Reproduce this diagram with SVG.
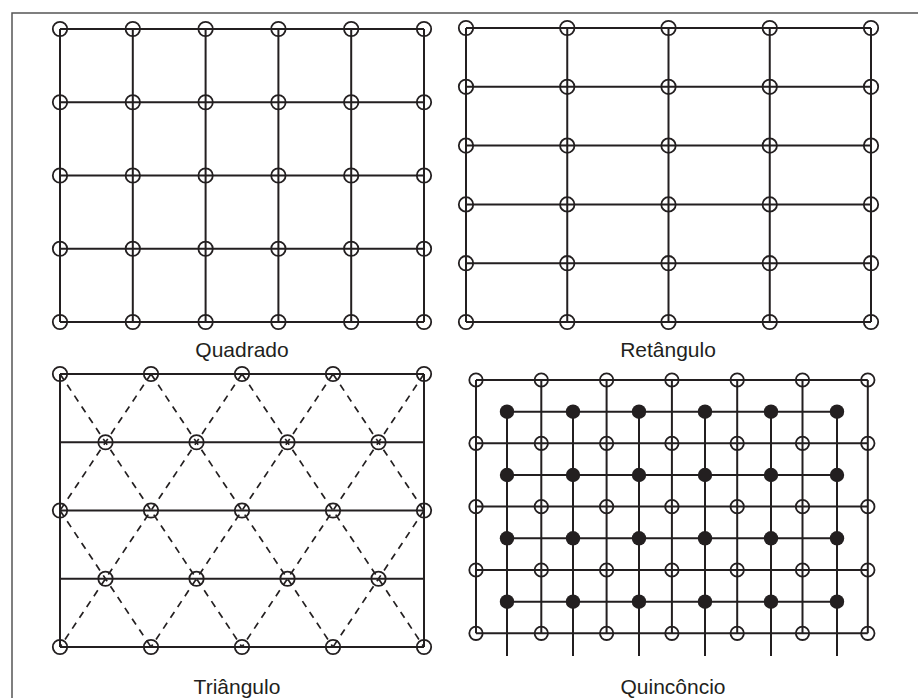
<svg xmlns="http://www.w3.org/2000/svg" xmlns:xlink="http://www.w3.org/1999/xlink" width="919" height="698" viewBox="0 0 919 698">
<style>
.frame{fill:none;stroke:#555;stroke-width:1.5}
.ln{fill:none;stroke:#231f20;stroke-width:2}
.dash{fill:none;stroke:#231f20;stroke-width:1.7;stroke-dasharray:7 6}
.oc{fill:none;stroke:#231f20;stroke-width:1.8}
.fc{fill:#231f20;stroke:none}
.lbl{font-family:"Liberation Sans",Arial,sans-serif;font-size:21px;fill:#231f20;text-anchor:middle}
</style>
<defs>
<circle id="o" r="7.2" class="oc"/>
<circle id="os" r="6.7" class="oc"/>
<circle id="f" r="7.2" class="fc"/>
</defs>
<rect width="919" height="698" fill="#fff"/>
<path class="frame" d="M12 698V13H918"/>

<g id="quadrado">
<g id="quadrado-connectors">
<path class="ln" d="M60 29V322M132.8 29V322M205.6 29V322M278.4 29V322M351.2 29V322M424 29V322M60 29H424M60 102.25H424M60 175.5H424M60 248.75H424M60 322H424"/>
</g>
<g id="quadrado-nodes">
<use href="#o" x="60" y="29"/><use href="#o" x="132.8" y="29"/><use href="#o" x="205.6" y="29"/><use href="#o" x="278.4" y="29"/><use href="#o" x="351.2" y="29"/><use href="#o" x="424" y="29"/>
<use href="#o" x="60" y="102.25"/><use href="#o" x="132.8" y="102.25"/><use href="#o" x="205.6" y="102.25"/><use href="#o" x="278.4" y="102.25"/><use href="#o" x="351.2" y="102.25"/><use href="#o" x="424" y="102.25"/>
<use href="#o" x="60" y="175.5"/><use href="#o" x="132.8" y="175.5"/><use href="#o" x="205.6" y="175.5"/><use href="#o" x="278.4" y="175.5"/><use href="#o" x="351.2" y="175.5"/><use href="#o" x="424" y="175.5"/>
<use href="#o" x="60" y="248.75"/><use href="#o" x="132.8" y="248.75"/><use href="#o" x="205.6" y="248.75"/><use href="#o" x="278.4" y="248.75"/><use href="#o" x="351.2" y="248.75"/><use href="#o" x="424" y="248.75"/>
<use href="#o" x="60" y="322"/><use href="#o" x="132.8" y="322"/><use href="#o" x="205.6" y="322"/><use href="#o" x="278.4" y="322"/><use href="#o" x="351.2" y="322"/><use href="#o" x="424" y="322"/>
</g>
<text class="lbl" x="242" y="357">Quadrado</text>
</g>

<g id="retangulo">
<g id="retangulo-connectors">
<path class="ln" d="M466 28V322M567.25 28V322M668.5 28V322M769.75 28V322M871 28V322M466 28H871M466 86.8H871M466 145.6H871M466 204.4H871M466 263.2H871M466 322H871"/>
</g>
<g id="retangulo-nodes">
<use href="#o" x="466" y="28"/><use href="#o" x="567.25" y="28"/><use href="#o" x="668.5" y="28"/><use href="#o" x="769.75" y="28"/><use href="#o" x="871" y="28"/>
<use href="#o" x="466" y="86.8"/><use href="#o" x="567.25" y="86.8"/><use href="#o" x="668.5" y="86.8"/><use href="#o" x="769.75" y="86.8"/><use href="#o" x="871" y="86.8"/>
<use href="#o" x="466" y="145.6"/><use href="#o" x="567.25" y="145.6"/><use href="#o" x="668.5" y="145.6"/><use href="#o" x="769.75" y="145.6"/><use href="#o" x="871" y="145.6"/>
<use href="#o" x="466" y="204.4"/><use href="#o" x="567.25" y="204.4"/><use href="#o" x="668.5" y="204.4"/><use href="#o" x="769.75" y="204.4"/><use href="#o" x="871" y="204.4"/>
<use href="#o" x="466" y="263.2"/><use href="#o" x="567.25" y="263.2"/><use href="#o" x="668.5" y="263.2"/><use href="#o" x="769.75" y="263.2"/><use href="#o" x="871" y="263.2"/>
<use href="#o" x="466" y="322"/><use href="#o" x="567.25" y="322"/><use href="#o" x="668.5" y="322"/><use href="#o" x="769.75" y="322"/><use href="#o" x="871" y="322"/>
</g>
<text class="lbl" x="668" y="357">Retângulo</text>
</g>

<g id="triangulo">
<g id="triangulo-connectors">
<path class="ln" d="M60 374V647M424 374V647M60 374H424M60 442.25H424M60 510.5H424M60 578.75H424M60 647H424"/>
<path class="dash" d="M60 510.5L151 647M60 374L242 647M151 374L333 647M242 374L424 647M333 374L424 510.5M151 374L60 510.5M242 374L60 647M333 374L151 647M424 374L242 647M424 510.5L333 647"/>
</g>
<g id="triangulo-nodes">
<use href="#o" x="60" y="374"/><use href="#o" x="151" y="374"/><use href="#o" x="242" y="374"/><use href="#o" x="333" y="374"/><use href="#o" x="424" y="374"/>
<use href="#o" x="105.5" y="442.25"/><use href="#o" x="196.5" y="442.25"/><use href="#o" x="287.5" y="442.25"/><use href="#o" x="378.5" y="442.25"/>
<use href="#o" x="60" y="510.5"/><use href="#o" x="151" y="510.5"/><use href="#o" x="242" y="510.5"/><use href="#o" x="333" y="510.5"/><use href="#o" x="424" y="510.5"/>
<use href="#o" x="105.5" y="578.75"/><use href="#o" x="196.5" y="578.75"/><use href="#o" x="287.5" y="578.75"/><use href="#o" x="378.5" y="578.75"/>
<use href="#o" x="60" y="647"/><use href="#o" x="151" y="647"/><use href="#o" x="242" y="647"/><use href="#o" x="333" y="647"/><use href="#o" x="424" y="647"/>
</g>
<text class="lbl" x="237" y="694">Triângulo</text>
</g>

<g id="quinconcio">
<g id="quinconcio-connectors">
<path class="ln" d="M476 380V633.3M541.3 380V633.3M606.6 380V633.3M671.9 380V633.3M737.2 380V633.3M802.5 380V633.3M867.8 380V633.3M476 380H867.8M476 443.3H867.8M476 506.6H867.8M476 570H867.8M476 633.3H867.8"/>
<path class="ln" d="M507 411.7V656M573 411.7V656M639 411.7V656M705 411.7V656M771 411.7V656M837 411.7V656M507 411.7H837M507 475H837M507 538.3H837M507 601.7H837"/>
</g>
<g id="quinconcio-nodes">
<use href="#os" x="476" y="380"/><use href="#os" x="541.3" y="380"/><use href="#os" x="606.6" y="380"/><use href="#os" x="671.9" y="380"/><use href="#os" x="737.2" y="380"/><use href="#os" x="802.5" y="380"/><use href="#os" x="867.8" y="380"/>
<use href="#os" x="476" y="443.3"/><use href="#os" x="541.3" y="443.3"/><use href="#os" x="606.6" y="443.3"/><use href="#os" x="671.9" y="443.3"/><use href="#os" x="737.2" y="443.3"/><use href="#os" x="802.5" y="443.3"/><use href="#os" x="867.8" y="443.3"/>
<use href="#os" x="476" y="506.6"/><use href="#os" x="541.3" y="506.6"/><use href="#os" x="606.6" y="506.6"/><use href="#os" x="671.9" y="506.6"/><use href="#os" x="737.2" y="506.6"/><use href="#os" x="802.5" y="506.6"/><use href="#os" x="867.8" y="506.6"/>
<use href="#os" x="476" y="570"/><use href="#os" x="541.3" y="570"/><use href="#os" x="606.6" y="570"/><use href="#os" x="671.9" y="570"/><use href="#os" x="737.2" y="570"/><use href="#os" x="802.5" y="570"/><use href="#os" x="867.8" y="570"/>
<use href="#os" x="476" y="633.3"/><use href="#os" x="541.3" y="633.3"/><use href="#os" x="606.6" y="633.3"/><use href="#os" x="671.9" y="633.3"/><use href="#os" x="737.2" y="633.3"/><use href="#os" x="802.5" y="633.3"/><use href="#os" x="867.8" y="633.3"/>
<use href="#f" x="507" y="411.7"/><use href="#f" x="573" y="411.7"/><use href="#f" x="639" y="411.7"/><use href="#f" x="705" y="411.7"/><use href="#f" x="771" y="411.7"/><use href="#f" x="837" y="411.7"/>
<use href="#f" x="507" y="475"/><use href="#f" x="573" y="475"/><use href="#f" x="639" y="475"/><use href="#f" x="705" y="475"/><use href="#f" x="771" y="475"/><use href="#f" x="837" y="475"/>
<use href="#f" x="507" y="538.3"/><use href="#f" x="573" y="538.3"/><use href="#f" x="639" y="538.3"/><use href="#f" x="705" y="538.3"/><use href="#f" x="771" y="538.3"/><use href="#f" x="837" y="538.3"/>
<use href="#f" x="507" y="601.7"/><use href="#f" x="573" y="601.7"/><use href="#f" x="639" y="601.7"/><use href="#f" x="705" y="601.7"/><use href="#f" x="771" y="601.7"/><use href="#f" x="837" y="601.7"/>
</g>
<text class="lbl" x="673" y="694">Quincôncio</text>
</g>
</svg>
